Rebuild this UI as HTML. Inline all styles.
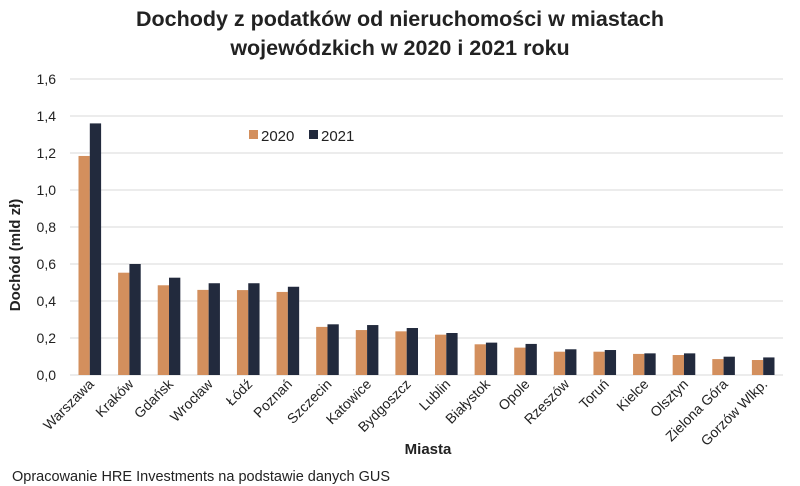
<!DOCTYPE html>
<html><head><meta charset="utf-8"><style>
html,body{margin:0;padding:0;background:#fff;}
svg{display:block;font-family:"Liberation Sans",sans-serif;}
</style></head><body>
<svg id="chart" width="800" height="486" viewBox="0 0 800 486">
<text x="400" y="26" text-anchor="middle" font-size="21.5" font-weight="bold" fill="#222">Dochody z podatków od nieruchomości w miastach</text>
<text x="400" y="55" text-anchor="middle" font-size="21.5" font-weight="bold" fill="#222">wojewódzkich w 2020 i 2021 roku</text>
<g id="grid"></g>
<g id="yticks"></g>
<g id="bars"></g>
<g id="xticks"></g>
<text transform="translate(20,255) rotate(-90)" text-anchor="middle" font-size="15" font-weight="bold" fill="#222">Dochód (mld zł)</text>
<text x="428" y="454" text-anchor="middle" font-size="15" font-weight="bold" fill="#222">Miasta</text>
<g>
<rect x="249" y="130" width="9" height="9" fill="#d38f5d"/>
<text x="261" y="141" font-size="15" fill="#222">2020</text>
<rect x="309" y="130" width="9" height="9" fill="#222a3d"/>
<text x="321" y="141" font-size="15" fill="#222">2021</text>
</g>
<text x="12" y="481" font-size="14.5" fill="#222">Opracowanie HRE Investments na podstawie danych GUS</text>
</svg>
<script>
const categories=["Warszawa","Kraków","Gdańsk","Wrocław","Łódź","Poznań","Szczecin","Katowice","Bydgoszcz","Lublin","Białystok","Opole","Rzeszów","Toruń","Kielce","Olsztyn","Zielona Góra","Gorzów Wlkp."];
const values2020=[1.184,0.553,0.485,0.46,0.459,0.449,0.26,0.243,0.236,0.218,0.166,0.148,0.126,0.126,0.114,0.108,0.086,0.081];
const values2021=[1.36,0.60,0.526,0.496,0.496,0.477,0.274,0.27,0.254,0.227,0.175,0.168,0.139,0.135,0.117,0.117,0.099,0.095];
const yTicks=[0,0.2,0.4,0.6,0.8,1.0,1.2,1.4,1.6];
const NS="http://www.w3.org/2000/svg";
const x0=70,x1=783,yBase=375,yTop=79,yMax=1.6;
const band=(x1-x0)/categories.length;
function y(v){return yBase-(v/yMax)*(yBase-yTop);}
function xc(i){return x0+band*(i+0.5);}
function mk(tag,attrs,parent){const e=document.createElementNS(NS,tag);for(const k in attrs)e.setAttribute(k,attrs[k]);parent.appendChild(e);return e;}
const grid=document.getElementById('grid'),yt=document.getElementById('yticks'),bars=document.getElementById('bars'),xt=document.getElementById('xticks');
yTicks.forEach(t=>{
  const l=mk('line',{x1:x0,x2:x1,y1:y(t),y2:y(t),stroke:'#d9d9d9','stroke-width':1},grid);
  
  
  const tx=mk('text',{x:56,y:y(t)+5,'text-anchor':'end','font-size':14,fill:'#222'},yt);
  tx.textContent=t.toFixed(1).replace('.',',');
  
  
});
const bw=11.3;
categories.forEach((c,i)=>{
  const cx=xc(i);
  const b1=mk('rect',{x:cx-bw,y:y(values2020[i]),width:bw,height:yBase-y(values2020[i]),fill:'#d38f5d'},bars);
  
  
  const b2=mk('rect',{x:cx,y:y(values2021[i]),width:bw,height:yBase-y(values2021[i]),fill:'#222a3d'},bars);
  
  
  const tx=mk('text',{transform:`translate(${cx+5},${yBase+10}) rotate(-45)`,'text-anchor':'end','font-size':14,fill:'#222'},xt);
  tx.textContent=c;
  
  
});
</script>
</body></html>
